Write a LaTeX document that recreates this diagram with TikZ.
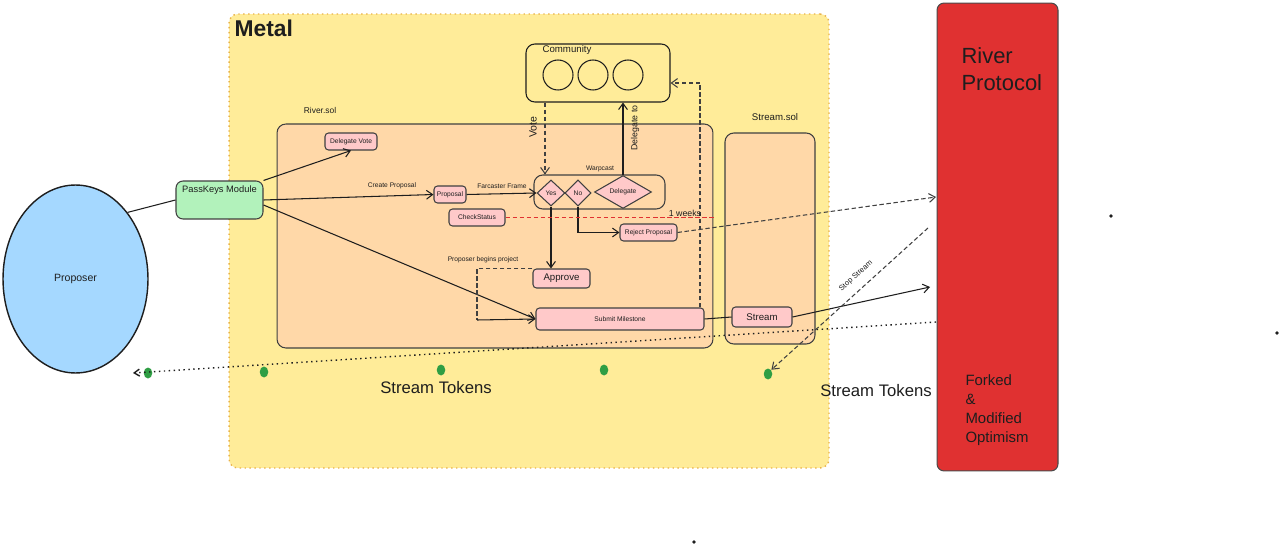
\documentclass[tikz,border=0pt]{standalone}
\usepackage{fontspec}
\setmainfont{Liberation Sans}
\usetikzlibrary{shapes.geometric,arrows.meta,calc}
\definecolor{metalY}{HTML}{FFEC99}
\definecolor{metalB}{HTML}{E9B24A}
\definecolor{solO}{HTML}{FFD8A8}
\definecolor{pinkC}{HTML}{FFC9C9}
\definecolor{greenC}{HTML}{B2F2BB}
\definecolor{blueC}{HTML}{A5D8FF}
\definecolor{redC}{HTML}{E03131}
\definecolor{dotG}{HTML}{2F9E44}
\definecolor{ink}{HTML}{1E1E1E}
\newcommand{\fs}[1]{\fontsize{#1}{#1}\selectfont}
\begin{document}
\begin{tikzpicture}[x=0.02cm,y=-0.02cm,
  line width=0.6pt,
  every node/.style={text=ink},
  lbl/.style={inner sep=0pt},
  pinkbox/.style={draw=ink!85, fill=pinkC, rounded corners=2pt, inner sep=0pt, line width=0.6pt},
  solbox/.style={draw=ink!85, fill=solO, rounded corners=5pt, line width=0.6pt},
  dia/.style={diamond, draw=ink!85, fill=pinkC, inner sep=0pt, line width=0.6pt},
  ring/.style={circle, draw=ink, minimum size=0.6cm, inner sep=0pt},
  gdot/.style={ellipse, fill=dotG, minimum width=0.17cm, minimum height=0.22cm, inner sep=0pt},
  bdot/.style={circle, fill=ink, minimum size=2.2pt, inner sep=0pt},
  arr/.style={draw=ink, -{Straight Barb[length=3.5pt,width=5pt]}},
  darr/.style={draw=ink!85, dashed, dash pattern=on 2.5pt off 1.5pt, -{Straight Barb[length=3.5pt,width=5pt]}},
  dln/.style={draw=ink!85, dashed, dash pattern=on 2.5pt off 1.5pt}
]
\useasboundingbox (0,0) rectangle (1280,547);
\fill[white] (0,0) rectangle (1280,547);

% Metal frame
\node[draw=metalB, fill=metalY, dotted, line width=0.8pt, rounded corners=5pt, minimum width=12.0cm, minimum height=9.08cm, inner sep=0pt] (metal) at (529,241) {};
\node[lbl, anchor=west] (metalT) at (234,28) {\fs{13}\bfseries Metal};

% Community
\node[draw=ink, fill=metalY, rounded corners=5pt, minimum width=2.88cm, minimum height=1.16cm, inner sep=0pt] (comm) at (598,73) {};
\node[lbl] (commT) at (567,50) {\fs{5.5}Community};
\node[ring] (c1) at (558,75) {};
\node[ring] (c2) at (593,75) {};
\node[ring] (c3) at (628,75) {};

% River.sol
\node[lbl] (riverT) at (320,110) {\fs{4.8}River.sol};
\node[solbox, minimum width=8.72cm, minimum height=4.48cm, inner sep=0pt] (river) at (495,236) {};

% Stream.sol
\node[lbl] (streamT) at (775,117) {\fs{5.5}Stream.sol};
\node[solbox, minimum width=1.8cm, minimum height=4.22cm, inner sep=0pt] (streamS) at (770,238.5) {};

% Warpcast
\node[draw=ink!85, rounded corners=5pt, minimum width=2.62cm, minimum height=0.68cm, inner sep=0pt] (warp) at (599.5,192) {};
\node[lbl] (warpT) at (600,169) {\fs{3.8}Warpcast};
\node[dia, minimum width=0.56cm, minimum height=0.52cm] (yes) at (551,193) {\fs{3.8}Yes};
\node[dia, minimum width=0.52cm, minimum height=0.52cm] (no) at (578,193) {\fs{3.8}No};
\node[dia, minimum width=1.14cm, minimum height=0.36cm] (dlg) at (623,192) {\fs{3.8}Delegate};

% pink boxes
\node[pinkbox, minimum width=1.04cm, minimum height=0.34cm] (dv) at (351,141.5) {\fs{3.8}Delegate Vote};
\node[pinkbox, minimum width=0.64cm, minimum height=0.34cm] (prp) at (450,194.5) {\fs{3.8}Proposal};
\node[pinkbox, minimum width=1.12cm, minimum height=0.34cm] (cs) at (477,217.5) {\fs{3.8}CheckStatus};
\node[pinkbox, minimum width=1.14cm, minimum height=0.34cm] (rej) at (648.5,232.5) {\fs{3.8}Reject Proposal};
\node[pinkbox, minimum width=1.14cm, minimum height=0.38cm] (ap) at (561.5,278.5) {\fs{5.5}Approve};
\node[pinkbox, minimum width=3.36cm, minimum height=0.44cm] (sm) at (620,319) {\fs{3.8}Submit Milestone};
\node[pinkbox, minimum width=1.2cm, minimum height=0.4cm] (st) at (762,317) {\fs{5.5}Stream};

% PassKeys
\node[draw=ink!85, fill=greenC, rounded corners=4pt, minimum width=1.74cm, minimum height=0.76cm, inner sep=0pt] (pk) at (219.5,200) {};
\node[lbl] (pkT) at (219.5,190) {\fs{5.3}PassKeys Module};

% Proposer
\node[ellipse, draw=ink, fill=blueC, minimum width=2.9cm, minimum height=3.76cm, inner sep=0pt, line width=0.8pt] (pr) at (75.5,279) {\fs{6}Proposer};

% River Protocol
\node[draw=ink!80, fill=redC, rounded corners=4pt, minimum width=2.42cm, minimum height=9.36cm, inner sep=0pt] (rp) at (997.5,237) {};
\node[lbl, anchor=north west, align=left, font=\fontsize{12.5}{15.5}\selectfont] (rpT) at (961,47) {River\\Protocol};
\node[lbl, anchor=north west, align=left, font=\fontsize{8.5}{10.8}\selectfont] (rpB) at (965,374) {Forked\\\&\\Modified\\Optimism};

% green dots
\node[gdot] (g1) at (148,373) {};
\node[gdot] (g2) at (264,372) {};
\node[gdot] (g3) at (441,370) {};
\node[gdot] (g4) at (604,370) {};
\node[gdot] (g5) at (768,374) {};

% black specks
\node[bdot] (s1) at (1111,216) {};
\node[bdot] (s2) at (1277,333) {};
\node[bdot] (s3) at (694,542) {};

% Stream Tokens labels
\node[lbl] (stk1) at (436,388) {\fs{9.5}Stream Tokens};
\node[lbl] (stk2) at (876,391) {\fs{9.5}Stream Tokens};

% coordinates
\coordinate (vx) at (545,0);
\coordinate (rc) at (700,83);
\coordinate (wk) at (715,0);
\coordinate (bend) at (477,320);
\coordinate (rjEnd) at (936,197);
\coordinate (stEnd) at (930,287);
\coordinate (ssStart) at (928,228);
\coordinate (dotStart) at (936,322);
\coordinate (dotEnd) at (133,373);

% connectors
\draw[ink] (pr.52) -- (pk.west);
\draw[arr] (pk.north east) -- (dv.south);
\draw[arr] (pk.east) -- (prp.west);
\node[lbl] (cpT) at (392,186) {\fs{3.8}Create Proposal};
\draw[arr] ($(pk.east)+(0,5)$) -- (sm.west);
\draw[arr] (prp.east) -- (yes.west);
\node[lbl] (ffT) at (502,186) {\fs{3.8}Farcaster Frame};
\draw[darr] (comm.south -| vx) -- (warp.north -| vx);
\node[lbl, rotate=90] (voteT) at (533,127) {\fs{6}Vote};
\draw[arr] (dlg.north) -- (dlg.north |- comm.south);
\node[lbl, rotate=90] (dtT) at (635,128) {\fs{5}Delegate to};
\draw[dln] (sm.north -| rc) -- (rc);
\draw[darr] (rc) -- (rc -| comm.east);
\draw[arr] (yes.south) -- (yes.south |- ap.north);
\draw[arr] (no.south) |- (rej.west);
\draw[draw=redC, line width=0.7pt, dashed, dash pattern=on 2.5pt off 1.5pt] (cs.east) -- (cs.east -| wk);
\node[lbl] (wkT) at (685,213) {\fs{5}1 weeks};
\draw[darr] (rej.east) -- (rjEnd);
\draw[dln] (ap.north west) -| (bend);
\draw[arr] (bend) -- (sm.west);
\node[lbl] (pbT) at (483,260) {\fs{3.8}Proposer begins project};
\draw[ink] (sm.east) -- (st.west);
\draw[arr] (st.east) -- (stEnd);
\draw[darr] (ssStart) -- (g5.north east);
\node[lbl, rotate=42] (ssT) at (856,276) {\fs{4.3}Stop Stream};
\draw[ink, dotted, line width=0.8pt, -{Straight Barb[length=3pt,width=4pt]}] (dotStart) -- (dotEnd);
\end{tikzpicture}
\end{document}
